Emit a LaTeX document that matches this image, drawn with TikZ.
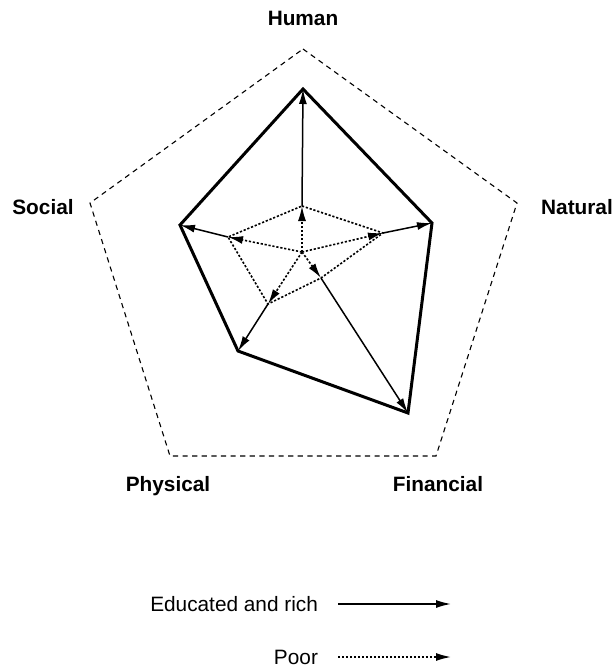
\documentclass[tikz,border=0pt]{standalone}
\usepackage{fontspec}
\setmainfont{Liberation Sans}
\usetikzlibrary{arrows.meta}
\tikzset{
  outline/.style={line width=0.55pt, dash pattern=on 2.6pt off 2.2pt},
  rich/.style={line width=1.5pt, line join=miter},
  poor/.style={line width=0.8pt, dash pattern=on 1.1pt off 0.9pt},
  tip/.style={-{Latex[length=7.5pt,width=4pt]}},
  capital/.style={font=\fontsize{10.4}{12}\selectfont\bfseries, text height=7.5pt, text depth=2.2pt},
}
\begin{document}
\begin{tikzpicture}[x=0.5pt,y=-0.5pt]
        \useasboundingbox (0,0) rectangle (614,666);

        % outer frame
        \coordinate (o1) at (303,49);
        \coordinate (o2) at (517,203);
        \coordinate (o3) at (436,456);
        \coordinate (o4) at (170,456);
        \coordinate (o5) at (90,203);
        \draw[outline] (o1) -- (o2) -- (o3) -- (o4) -- (o5) -- cycle;

        % centre, poor and rich
        \coordinate (c)  at (302,252);
        \coordinate (p1) at (302,206);
        \coordinate (p2) at (383,233);
        \coordinate (p3) at (321,278);
        \coordinate (p4) at (268,304);
        \coordinate (p5) at (228,237);
        \coordinate (r1) at (303,89);
        \coordinate (r2) at (432,223);
        \coordinate (r3) at (408,413);
        \coordinate (r4) at (238,351);
        \coordinate (r5) at (180,225);

        \draw[rich] (r1) -- (r2) -- (r3) -- (r4) -- (r5) -- cycle;
        \draw[poor] (p1) -- (p2) -- (p3) -- (p4) -- (p5) -- cycle;

        \begin{scope}[every edge/.style={draw, tip, poor}]
          \path (c) edge (p1);
          \path (c) edge (p2);
          \path (c) edge (p3);
          \path (c) edge (p4);
          \path (c) edge (p5);
        \end{scope}

        \begin{scope}[every edge/.style={draw, tip, line width=0.75pt}]
          \path (p1) edge (r1);
          \path (p2) edge (r2);
          \path (p3) edge (r3);
          \path (p4) edge (r4);
          \path (p5) edge (r5);
        \end{scope}

        \begin{scope}[every node/.style={capital}]
          \node (human)     at (303,20)  {Human};
          \node (natural)   at (577,209) {Natural};
          \node (financial) at (438,486) {Financial};
          \node (physical)  at (168,486) {Physical};
          \node (social)    at (43,209)  {Social};
        \end{scope}

        % legend
        \begin{scope}[every node/.style={font=\fontsize{10.4}{12}\selectfont, anchor=east}]
          \node (richtext) at (325,604) {Educated and rich};
          \node (poortext) at (325,657) {Poor};
        \end{scope}
        \coordinate (richend) at (451,604);
        \coordinate (poorend) at (451,657);
        \draw[tip, line width=0.75pt] (richtext.east) ++(13,0) -- (richend);
        \draw[tip, poor] (poortext.east) ++(13,0) -- (poorend);

      \end{tikzpicture}
\end{document}
